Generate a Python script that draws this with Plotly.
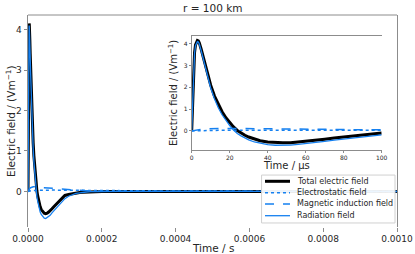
import plotly.graph_objects as go

# ---------------- data (time in microseconds, field in V/m) ----------------
time_us = [0, 0.5, 1, 1.5, 2, 2.5, 3, 3.5, 4, 5, 6, 7, 8, 9, 10, 12, 14, 16, 18, 20,
           22, 24, 26, 28, 30, 33, 36, 40, 44, 48, 52, 56, 60, 65, 70, 75, 80, 85, 90, 95,
           100, 110, 120, 130, 140, 150, 160, 170, 180, 190, 200, 250, 300, 400, 500,
           600, 700, 800, 900, 1000]

total_field = [0, 1.5, 2.9, 3.6, 3.95, 4.1, 4.15, 4.13, 4.05, 3.75, 3.4, 3.05, 2.7, 2.4, 2.1,
               1.6, 1.2, 0.88, 0.6, 0.38, 0.18, 0.02, -0.1, -0.2, -0.28, -0.38, -0.45, -0.51,
               -0.54, -0.55, -0.54, -0.51, -0.48, -0.43, -0.38, -0.33, -0.28, -0.23, -0.18,
               -0.14, -0.1, -0.075, -0.055, -0.04, -0.03, -0.02, -0.013, -0.008, -0.004,
               -0.002, 0, 0, 0, 0, 0, 0, 0, 0, 0, 0]

electrostatic = [0, 0.002, 0.004, 0.006, 0.008, 0.01, 0.012, 0.013, 0.014, 0.016, 0.018,
                 0.019, 0.02, 0.021, 0.022, 0.023, 0.024, 0.025, 0.026, 0.027, 0.027, 0.028,
                 0.028, 0.029, 0.029, 0.03, 0.03, 0.03, 0.031, 0.031, 0.031, 0.031, 0.032,
                 0.032, 0.032, 0.032, 0.032, 0.032, 0.032, 0.032, 0.032, 0.032, 0.031, 0.031,
                 0.03, 0.03, 0.029, 0.028, 0.027, 0.026, 0.025, 0.02, 0.015, 0.01, 0.005,
                 0.002, 0, 0, 0, 0]

induction = [0, 0.01, 0.02, 0.03, 0.04, 0.05, 0.055, 0.06, 0.065, 0.075, 0.085, 0.09, 0.095,
             0.1, 0.105, 0.11, 0.115, 0.115, 0.115, 0.115, 0.112, 0.11, 0.108, 0.105, 0.102,
             0.1, 0.097, 0.093, 0.09, 0.087, 0.084, 0.081, 0.078, 0.074, 0.07, 0.066, 0.062,
             0.058, 0.055, 0.052, 0.049, 0.043, 0.037, 0.031, 0.026, 0.021, 0.017, 0.013,
             0.01, 0.007, 0.005, 0.002, 0.001, 0, 0, 0, 0, 0, 0, 0]

radiation = [0, 1.5, 2.9, 3.57, 3.91, 4.05, 4.1, 4.08, 3.99, 3.68, 3.31, 2.95, 2.6, 2.28,
             1.97, 1.47, 1.06, 0.74, 0.46, 0.24, 0.04, -0.12, -0.23, -0.33, -0.41, -0.51,
             -0.57, -0.63, -0.66, -0.67, -0.65, -0.62, -0.59, -0.53, -0.48, -0.42, -0.37,
             -0.31, -0.26, -0.22, -0.18, -0.12, -0.08, -0.05, -0.035, -0.02, -0.012, -0.007,
             -0.004, -0.002, -0.001, 0, 0, 0, 0, 0, 0, 0, 0, 0]

series_names = ["Total electric field", "Electrostatic field",
                "Magnetic induction field", "Radiation field"]
main_xticks = [0, 0.0002, 0.0004, 0.0006, 0.0008, 0.001]
inset_xticks = [0, 20, 40, 60, 80, 100]
yticks = [0, 1, 2, 3, 4]

time_s = [t * 1e-6 for t in time_us]

BLUE = "#1580f0"
GRAY = "#8c8c8c"
TXT = "#262626"
FONT = "DejaVu Sans"

series = [
    (total_field, dict(color="black", width=3)),
    (electrostatic, dict(color=BLUE, width=1.5, dash="dot")),
    (induction, dict(color=BLUE, width=1.5, dash="dash")),
    (radiation, dict(color=BLUE, width=1.3)),
]

fig = go.Figure()
for vals, line in series:
    fig.add_trace(go.Scatter(x=time_s, y=vals, mode="lines", line=line,
                             showlegend=False, xaxis="x", yaxis="y"))
for vals, line in series:
    sel = [(t, v) for t, v in zip(time_us, vals) if t <= 100]
    fig.add_trace(go.Scatter(x=[p[0] for p in sel], y=[p[1] for p in sel], mode="lines",
                             line=line, showlegend=False, xaxis="x2", yaxis="y2"))

yr = [-0.88, 4.36]

fig.update_layout(
    width=415, height=254,
    margin=dict(l=28, r=18, t=15, b=27, autoexpand=False),
    paper_bgcolor="white", plot_bgcolor="white",
    font=dict(family=FONT, color=TXT),
    showlegend=False,
    xaxis=dict(domain=[0, 1], range=[0, 0.001], tickvals=main_xticks, tickformat=".4f",
               ticks="outside", ticklen=3.5, tickcolor=GRAY, tickwidth=1, automargin=False,
               showgrid=False, zeroline=False, showline=False,
               tickfont=dict(size=9, family=FONT, color=TXT)),
    yaxis=dict(domain=[0, 1], range=yr, tickvals=yticks, automargin=False,
               ticks="outside", ticklen=3.5, tickcolor=GRAY, tickwidth=1,
               showgrid=False, zeroline=False, showline=True, linecolor=GRAY,
               linewidth=1, mirror=True,
               tickfont=dict(size=9, family=FONT, color=TXT)),
    xaxis2=dict(domain=[0.4436, 0.9585], anchor="y2", range=[0, 100], tickvals=inset_xticks,
                ticks="outside", ticklen=2, tickcolor=GRAY, tickwidth=1, automargin=False,
                showgrid=False, zeroline=False, showline=True, linecolor=GRAY,
                linewidth=1, mirror=True,
                tickfont=dict(size=6, family=FONT, color=TXT)),
    yaxis2=dict(domain=[0.363, 0.901], anchor="x2", range=yr, tickvals=yticks,
                ticks="outside", ticklen=2, tickcolor=GRAY, tickwidth=1, automargin=False,
                showgrid=False, zeroline=False, showline=True, linecolor=GRAY,
                linewidth=1, mirror=False,
                tickfont=dict(size=6, family=FONT, color=TXT)),
)

shapes = [
    # top spine of main axes
    dict(type="line", xref="paper", yref="paper", x0=0, x1=1, y0=1, y1=1,
         line=dict(color=GRAY, width=1)),
    # legend frame
    dict(type="rect", xref="paper", yref="paper", x0=0.633, x1=0.9946, y0=0.019, y1=0.245,
         fillcolor="rgba(255,255,255,0.92)", line=dict(color="#d0d0d0", width=1)),
]
row_y = [0.2156, 0.1618, 0.1085, 0.0533]
annotations = []
for (vals, line), name, ry in zip(series, series_names, row_y):
    shapes.append(dict(type="line", xref="paper", yref="paper", x0=0.6423, x1=0.710,
                       y0=ry, y1=ry, line=line))
    annotations.append(dict(xref="paper", yref="paper", x=0.7236, y=ry, text=name,
                            showarrow=False, xanchor="left", yanchor="middle",
                            font=dict(size=8, family=FONT, color=TXT)))

annotations += [
    dict(xref="paper", yref="paper", x=0.5, y=1.033, text="r = 100 km", showarrow=False,
         xanchor="center", yanchor="middle", font=dict(size=10.5, family=FONT, color=TXT)),
    dict(xref="paper", yref="paper", x=0.5, y=-0.0976, text="Time / s", showarrow=False,
         xanchor="center", yanchor="middle", font=dict(size=10.5, family=FONT, color=TXT)),
    dict(xref="paper", yref="paper", x=-0.0488, y=0.5, text="Electric field / (Vm<sup>−1</sup>)",
         showarrow=False, textangle=-90, xanchor="center", yanchor="middle",
         font=dict(size=10.5, family=FONT, color=TXT)),
    dict(xref="paper", yref="paper", x=0.701, y=0.289, text="Time / μs", showarrow=False,
         xanchor="center", yanchor="middle", font=dict(size=10, family=FONT, color=TXT)),
    dict(xref="paper", yref="paper", x=0.393, y=0.632, text="Electric field / (Vm<sup>−1</sup>)",
         showarrow=False, textangle=-90, xanchor="center", yanchor="middle",
         font=dict(size=10, family=FONT, color=TXT)),
]

fig.update_layout(shapes=shapes, annotations=annotations)
fig.write_html("out.html", config={"displayModeBar": False},
               post_script="document.body.style.margin='0';document.body.style.padding='0';")
